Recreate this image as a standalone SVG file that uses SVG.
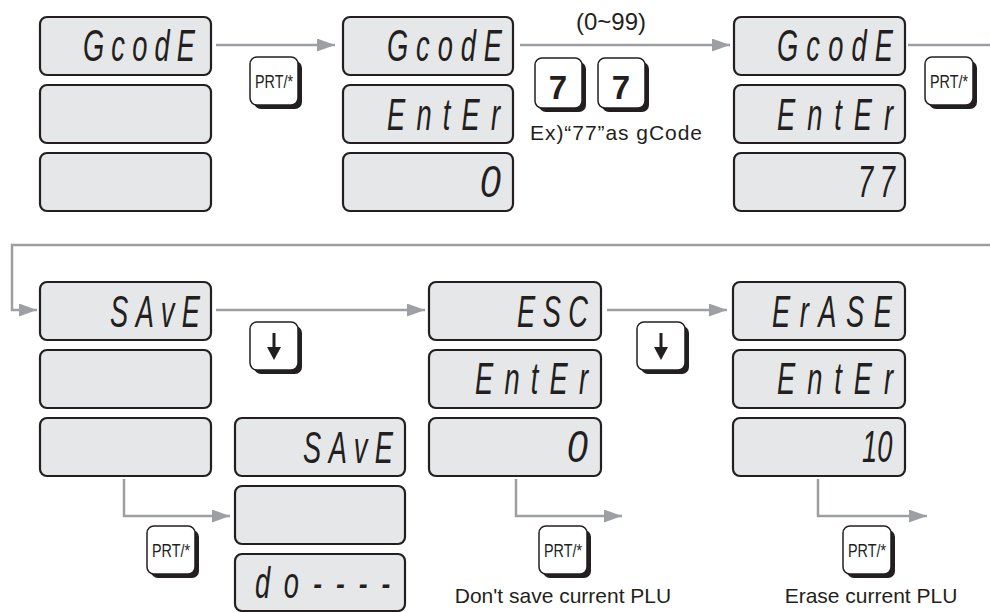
<svg xmlns="http://www.w3.org/2000/svg" width="990" height="612" viewBox="0 0 990 612">
<defs>
<style>
.panel{fill:#e6e7e8;stroke:#231f20;stroke-width:2.2}
.seg{font-family:"Liberation Sans",Arial,sans-serif;font-style:italic;font-size:44px;fill:#231f20}
.conn{fill:none;stroke:#9d9fa2;stroke-width:2.5}
.ksh{fill:#231f20}
.kf{fill:#ffffff;stroke:#231f20;stroke-width:1.5}
.kt{font-family:"Liberation Sans",Arial,sans-serif;font-size:19px;fill:#231f20;text-anchor:middle}
.k7{font-family:"Liberation Sans",Arial,sans-serif;font-size:33px;font-weight:bold;fill:#231f20;text-anchor:middle}
.lbl{font-family:"Liberation Sans",Arial,sans-serif;font-size:21px;fill:#231f20}
.rng{font-family:"Liberation Sans",Arial,sans-serif;font-size:24px;fill:#231f20;text-anchor:middle}
</style>
<marker id="arr" markerUnits="userSpaceOnUse" markerWidth="18" markerHeight="13" refX="18" refY="6.5" orient="auto">
<path d="M0,0 L18,6.5 L0,13 z" fill="#9d9fa2"/>
</marker>
</defs>
<rect width="990" height="612" fill="#ffffff"/>

<g id="connectors">
<path class="conn" d="M216,45 H335" marker-end="url(#arr)"/>
<path class="conn" d="M520,45 H730" marker-end="url(#arr)"/>
<path class="conn" d="M908,45 H992"/>
<path class="conn" d="M992,245 H12 V310 H37" marker-end="url(#arr)"/>
<path class="conn" d="M216,310 H425" marker-end="url(#arr)"/>
<path class="conn" d="M607,310 H727" marker-end="url(#arr)"/>
<path class="conn" d="M124,479 V516 H230" marker-end="url(#arr)"/>
<path class="conn" d="M516,479 V516 H622" marker-end="url(#arr)"/>
<path class="conn" d="M818,479 V516 H927" marker-end="url(#arr)"/>
</g>

<g id="display-gcode-1">
<rect class="panel" x="40" y="17" width="171" height="58" rx="7"/>
<rect class="panel" x="40" y="85" width="171" height="58" rx="7"/>
<rect class="panel" x="40" y="153" width="171" height="58" rx="7"/>
<text class="seg" transform="translate(83,61) scale(0.62,1)" textLength="180.6">GcodE</text>
</g>

<g id="display-gcode-2">
<rect class="panel" x="343" y="17" width="170" height="58" rx="7"/>
<rect class="panel" x="343" y="85" width="170" height="58" rx="7"/>
<rect class="panel" x="343" y="153" width="170" height="58" rx="7"/>
<text class="seg" transform="translate(387,61) scale(0.62,1)" textLength="185.5">GcodE</text>
<text class="seg" transform="translate(387,130) scale(0.62,1)" textLength="182.3">EntEr</text>
<text class="seg" transform="translate(480,197) scale(0.85,1)">0</text>
</g>

<g id="display-gcode-3">
<rect class="panel" x="734" y="17" width="171" height="58" rx="7"/>
<rect class="panel" x="734" y="85" width="171" height="58" rx="7"/>
<rect class="panel" x="734" y="153" width="171" height="58" rx="7"/>
<text class="seg" transform="translate(777,61) scale(0.62,1)" textLength="187.1">GcodE</text>
<text class="seg" transform="translate(777,130) scale(0.62,1)" textLength="187.1">EntEr</text>
<text class="seg" transform="translate(858,197) scale(0.62,1)" textLength="59.7">77</text>
</g>

<g id="display-save">
<rect class="panel" x="40" y="282" width="171" height="58" rx="7"/>
<rect class="panel" x="40" y="350" width="171" height="58" rx="7"/>
<rect class="panel" x="40" y="418" width="171" height="58" rx="7"/>
<text class="seg" transform="translate(110,327) scale(0.62,1)" textLength="145.2">SAvE</text>
</g>

<g id="display-save-do">
<rect class="panel" x="235" y="418" width="170" height="58" rx="7"/>
<rect class="panel" x="235" y="486" width="170" height="58" rx="7"/>
<rect class="panel" x="235" y="554" width="170" height="57" rx="7"/>
<text class="seg" transform="translate(303,463) scale(0.62,1)" textLength="145.2">SAvE</text>
<text class="seg" transform="translate(255,598) scale(0.62,1)" textLength="217.7">do----</text>
</g>

<g id="display-esc">
<rect class="panel" x="429" y="282" width="172" height="58" rx="7"/>
<rect class="panel" x="429" y="350" width="172" height="58" rx="7"/>
<rect class="panel" x="429" y="418" width="172" height="58" rx="7"/>
<text class="seg" transform="translate(517,327) scale(0.62,1)" textLength="114.5">ESC</text>
<text class="seg" transform="translate(475,394) scale(0.62,1)" textLength="182.3">EntEr</text>
<text class="seg" transform="translate(567,462) scale(0.85,1)">0</text>
</g>

<g id="display-erase">
<rect class="panel" x="733" y="282" width="172" height="58" rx="7"/>
<rect class="panel" x="733" y="350" width="172" height="58" rx="7"/>
<rect class="panel" x="733" y="418" width="172" height="58" rx="7"/>
<text class="seg" transform="translate(772,327) scale(0.62,1)" textLength="193.5">ErASE</text>
<text class="seg" transform="translate(777,394) scale(0.62,1)" textLength="187.1">EntEr</text>
<text class="seg" transform="translate(862,462) scale(0.62,1)">10</text>
</g>

<g id="key-prt-1">
<rect class="ksh" x="254" y="61" width="48" height="48" rx="7"/>
<rect class="kf" x="250" y="57" width="48" height="48" rx="7"/>
<text class="kt" x="274" y="88" textLength="38" lengthAdjust="spacingAndGlyphs">PRT/*</text>
</g>

<g id="key-7-1">
<rect class="ksh" x="539" y="62" width="47" height="50" rx="7"/>
<rect class="kf" x="535" y="58" width="47" height="50" rx="7"/>
<text class="k7" x="558" y="99">7</text>
</g>

<g id="key-7-2">
<rect class="ksh" x="602" y="62" width="47" height="50" rx="7"/>
<rect class="kf" x="598" y="58" width="47" height="50" rx="7"/>
<text class="k7" x="621" y="99">7</text>
</g>

<g id="key-prt-2">
<rect class="ksh" x="929" y="61" width="48" height="48" rx="7"/>
<rect class="kf" x="925" y="57" width="48" height="48" rx="7"/>
<text class="kt" x="949" y="88" textLength="38" lengthAdjust="spacingAndGlyphs">PRT/*</text>
</g>

<g id="key-down-1">
<rect class="ksh" x="254" y="326" width="48" height="48" rx="7"/>
<rect class="kf" x="250" y="322" width="48" height="48" rx="7"/>
<path d="M274,333 V350" stroke="#231f20" stroke-width="3"/>
<path d="M267,347 L281,347 L274,360 z" fill="#231f20"/>
</g>

<g id="key-down-2">
<rect class="ksh" x="641" y="326" width="48" height="48" rx="7"/>
<rect class="kf" x="637" y="322" width="48" height="48" rx="7"/>
<path d="M661,333 V350" stroke="#231f20" stroke-width="3"/>
<path d="M654,347 L668,347 L661,360 z" fill="#231f20"/>
</g>

<g id="key-prt-3">
<rect class="ksh" x="151" y="530" width="48" height="48" rx="7"/>
<rect class="kf" x="147" y="526" width="48" height="48" rx="7"/>
<text class="kt" x="171" y="557" textLength="38" lengthAdjust="spacingAndGlyphs">PRT/*</text>
</g>

<g id="key-prt-4">
<rect class="ksh" x="543" y="530" width="48" height="48" rx="7"/>
<rect class="kf" x="539" y="526" width="48" height="48" rx="7"/>
<text class="kt" x="563" y="557" textLength="38" lengthAdjust="spacingAndGlyphs">PRT/*</text>
</g>

<g id="key-prt-5">
<rect class="ksh" x="847" y="530" width="48" height="48" rx="7"/>
<rect class="kf" x="843" y="526" width="48" height="48" rx="7"/>
<text class="kt" x="867" y="557" textLength="38" lengthAdjust="spacingAndGlyphs">PRT/*</text>
</g>

<g id="labels">
<text class="rng" x="611" y="30">(0~99)</text>
<text class="lbl" x="530" y="140" textLength="172">Ex)“77”as gCode</text>
<text class="lbl" x="563" y="603" text-anchor="middle">Don't save current PLU</text>
<text class="lbl" x="871" y="603" text-anchor="middle">Erase current PLU</text>
</g>
</svg>
